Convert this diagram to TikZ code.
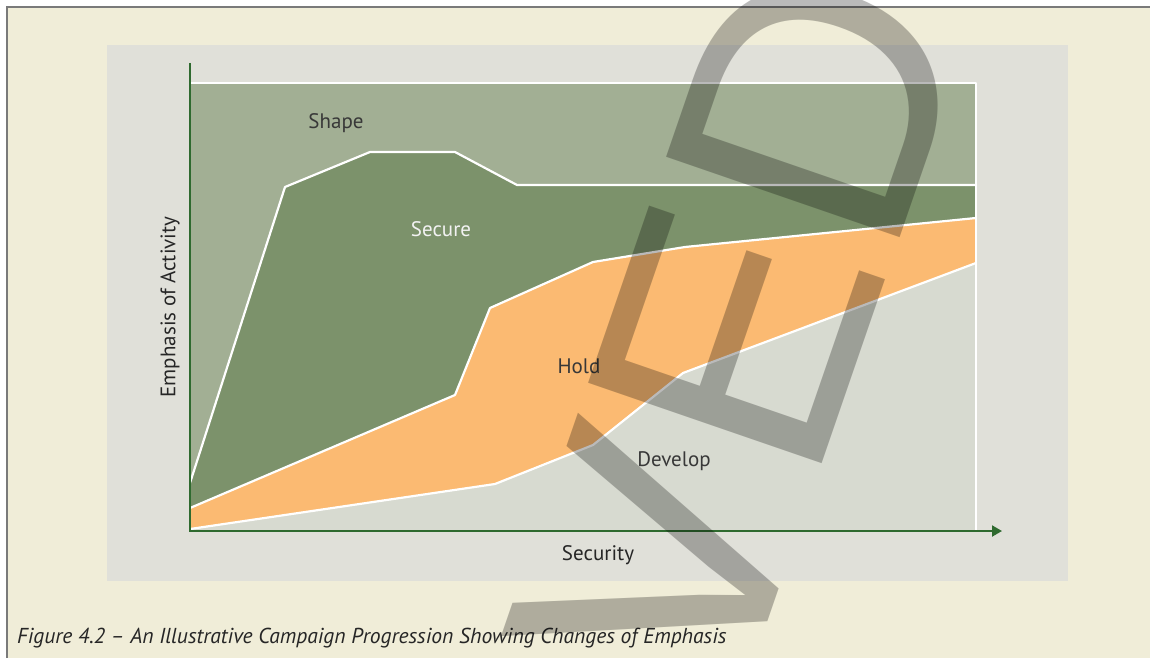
\documentclass[tikz,border=0pt]{standalone}
\usepackage{fontspec}
\setmainfont{PT Sans}
\newfontfamily\wmfont{Liberation Sans}
\usepackage{graphicx}
\usepackage{xcolor}
\usepackage{tikz}
\usetikzlibrary{arrows.meta}
\definecolor{panel_cream}{HTML}{F0EDD8}
\definecolor{panel_grey}{HTML}{E0E0D9}
\definecolor{frame_grey}{HTML}{7A7A7A}
\definecolor{shape_green}{HTML}{A2AF94}
\definecolor{secure_green}{HTML}{7C926B}
\definecolor{hold_orange}{HTML}{FBBA72}
\definecolor{develop_grey}{HTML}{D7DAD0}
\definecolor{axis_green}{HTML}{2F6A2F}
\definecolor{label_grey}{HTML}{383838}
\tikzset{
    tlabel/.style = {align=center, inner sep=0pt, text centered},
    area_label/.style = {tlabel, text=label_grey, font=\fontsize{21}{24}\selectfont},
    axis_label/.style = {tlabel, text=black!85, font=\fontsize{21}{24}\selectfont},
    caption_text/.style = {inner sep=0pt, text=black!85, font=\itshape\fontsize{21.6}{24}\selectfont},
    wm_text/.style = {inner sep=0pt, text=black, text opacity=0.27, font=\wmfont\fontsize{359}{359}\selectfont},
    bound_line/.style = {draw=white, line width=2.2pt, line join=round},
    axis_line/.style = {draw=axis_green, line width=2pt}
}

\begin{document}
\begin{tikzpicture}[x=1pt, y=-1pt]
    \useasboundingbox (0,0) rectangle (1150,658);
    \fill[white] (0,0) rectangle (1150,658);
    \fill[panel_cream] (7,7) rectangle (1150,658);
    \draw[frame_grey, line width=1.2pt] (7,658) -- (7,7) -- (1150,7);
    \fill[panel_grey] (107,45) rectangle (1068,581);

    \coordinate (origin) at (190,531);
    \coordinate (y_top) at (190,63);
    \coordinate (x_end) at (1002,531);

    \fill[shape_green] (190,83) rectangle (976,531);
    \fill[secure_green] (190,483) -- (285,187) -- (370,152) -- (455,152) -- (517,185) -- (976,185)
        -- (976,218) -- (685,247) -- (593,262) -- (490,308) -- (455,395) -- (190,508) -- cycle;
    \fill[hold_orange] (190,508) -- (455,395) -- (490,308) -- (593,262) -- (685,247) -- (976,218)
        -- (976,263) -- (683,373) -- (593,445) -- (495,484) -- (190,529) -- cycle;
    \fill[develop_grey] (190,529) -- (495,484) -- (593,445) -- (683,373) -- (976,263)
        -- (976,531) -- (190,531) -- cycle;

    \draw[bound_line] (190,483) -- (285,187) -- (370,152) -- (455,152) -- (517,185) -- (976,185);
    \draw[bound_line] (190,508) -- (455,395) -- (490,308) -- (593,262) -- (685,247) -- (976,218);
    \draw[bound_line] (190,529) -- (495,484) -- (593,445) -- (683,373) -- (976,263);
    \draw[bound_line] (190,83) -- (976,83) -- (976,531);

    \draw[axis_line, -{Triangle[length=10pt, width=11pt]}] (y_top) -- (origin) -- (x_end);

    \node (shape) [area_label] at (336,123) {Shape};
    \node (secure) [area_label, text=white!95!black] at (441,229) {Secure};
    \node (hold) [area_label] at (579,366) {Hold};
    \node (develop) [area_label] at (674,461) {Develop};
    \node (y_label) [axis_label, rotate=90] at (170,307) {Emphasis of Activity};
    \node (x_label) [axis_label] at (598,555) {Security};
    \node (caption) [caption_text, anchor=base west] at (17,643)
        {Figure 4.2 – An Illustrative Campaign Progression Showing Changes of Emphasis};

    \begin{scope}
        \clip (0,0) rectangle (1150,658);
        \node (watermark) [wm_text, anchor=base east, rotate=71] at (974.8,19.9) {VED};
    \end{scope}
\end{tikzpicture}
\end{document}
